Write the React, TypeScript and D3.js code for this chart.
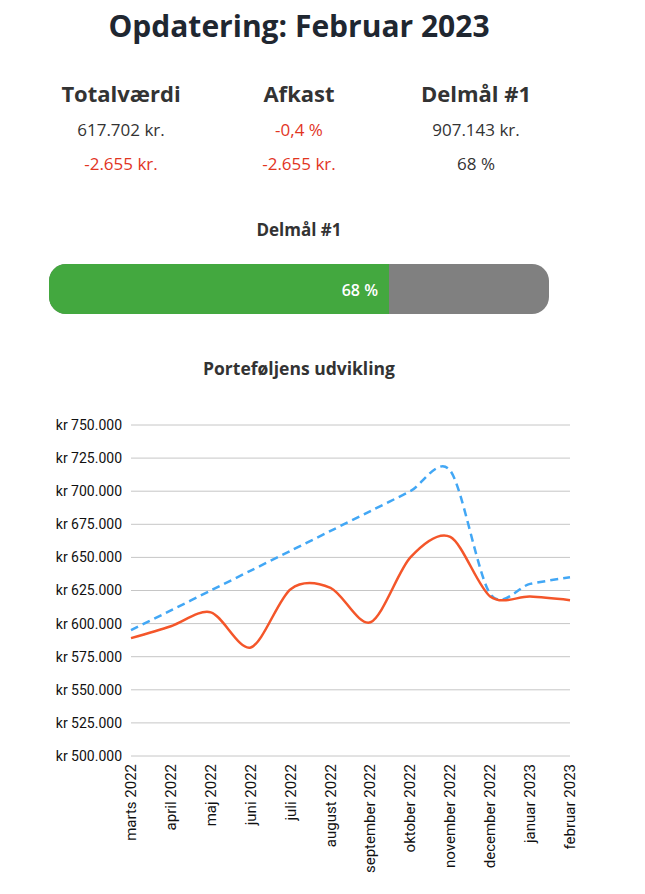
import React from "react";
import * as d3 from "d3";

const months = [
  "marts 2022", "april 2022", "maj 2022", "juni 2022", "juli 2022", "august 2022",
  "september 2022", "oktober 2022", "november 2022", "december 2022", "januar 2023", "februar 2023",
];
const portfolio = [589000, 598000, 608500, 582000, 626000, 627000, 601000, 650000, 665500, 620500, 620400, 617702];
const target = [595000, 610000, 625000, 640000, 655000, 670000, 685000, 700000, 715500, 622500, 630000, 635000];
const yTicks = [500000, 525000, 550000, 575000, 600000, 625000, 650000, 675000, 700000, 725000, 750000];

const statHeaders = ["Totalværdi", "Afkast", "Delmål #1"];
const statRow1 = ["617.702 kr.", "-0,4 %", "907.143 kr."];
const statRow2 = ["-2.655 kr.", "-2.655 kr.", "68 %"];
const progress = 0.68;

const RED = "#e2351f";
const DARK = "#333333";

const fmt = (v: number) => "kr " + d3.format(",")(v).replace(/,/g, ".");

export default function App() {
  const W = 645, H = 894;
  const x = d3.scalePoint<string>().domain(months).range([131, 570]);
  const y = d3.scaleLinear().domain([500000, 750000]).range([756, 425]);
  const line = d3
    .line<number>()
    .x((_, i) => x(months[i]) as number)
    .y((d) => y(d))
    .curve(d3.curveCardinal.tension(0.1));

  const colX = [121, 299, 476];
  const barX = d3.scaleLinear().domain([0, 1]).range([49, 549]);
  const barY = 264, barH = 50, r = 17;

  const isNeg = (s: string) => s.startsWith("-");

  return (
    <svg
      width={W}
      height={H}
      style={{ position: "absolute", left: 0, top: 0, background: "#fff" }}
      fontFamily="'Open Sans', sans-serif"
    >
      <text x={299} y={37} textAnchor="middle" fontSize={30} fontWeight={700} fill="#1f2731">
        Opdatering: Februar 2023
      </text>
      {statHeaders.map((h, i) => (
        <g key={h}>
          <text x={colX[i]} y={102} textAnchor="middle" fontSize={22} fontWeight={700} fill={DARK}>
            {h}
          </text>
          <text x={colX[i]} y={136} textAnchor="middle" fontSize={17} fill={isNeg(statRow1[i]) ? RED : DARK}>
            {statRow1[i]}
          </text>
          <text x={colX[i]} y={170} textAnchor="middle" fontSize={17} fill={isNeg(statRow2[i]) ? RED : DARK}>
            {statRow2[i]}
          </text>
        </g>
      ))}

      <text x={299} y={236} textAnchor="middle" fontSize={17} fontWeight={700} fill={DARK}>
        Delmål #1
      </text>
      <defs>
        <clipPath id="barclip">
          <rect x={barX(0)} y={barY} width={barX(1) - barX(0)} height={barH} rx={r} ry={r} />
        </clipPath>
      </defs>
      <g clipPath="url(#barclip)">
        <rect x={barX(0)} y={barY} width={barX(1) - barX(0)} height={barH} fill="#808080" />
        <rect x={barX(0)} y={barY} width={barX(progress) - barX(0)} height={barH} fill="#43a83f" />
      </g>
      <text x={barX(progress) - 11} y={296} textAnchor="end" fontSize={16} fontWeight={600} fill="#fff">
        {Math.round(progress * 100)} %
      </text>

      <text x={299} y={375} textAnchor="middle" fontSize={17.5} fontWeight={700} fill={DARK}>
        Porteføljens udvikling
      </text>

      {yTicks.map((t) => (
        <g key={t}>
          <line x1={131} x2={570} y1={y(t)} y2={y(t)} stroke="#c6c6c6" strokeWidth={1} />
          <text
            x={122}
            y={y(t)}
            dy="0.35em"
            textAnchor="end"
            fontSize={14}
            fontFamily="Roboto, sans-serif"
            fill="#111"
          >
            {fmt(t)}
          </text>
        </g>
      ))}

      {months.map((m) => (
        <text
          key={m}
          transform={`translate(${(x(m) as number) + 5},${764}) rotate(-90)`}
          textAnchor="end"
          fontSize={15}
          fontFamily="Roboto, sans-serif"
          fill="#111"
        >
          {m}
        </text>
      ))}

      <path d={line(target) || ""} fill="none" stroke="#42a7f5" strokeWidth={2.5} strokeDasharray="8,5" />
      <path d={line(portfolio) || ""} fill="none" stroke="#f4562a" strokeWidth={2.5} />
    </svg>
  );
}
